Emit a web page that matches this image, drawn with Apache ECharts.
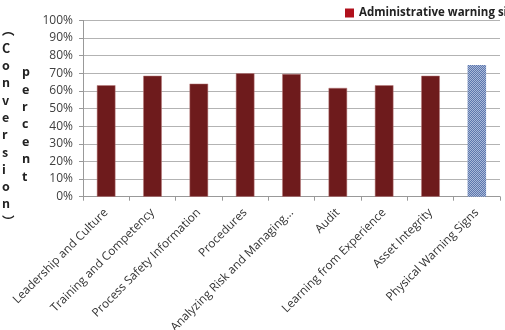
<!DOCTYPE html>
<html><head><meta charset="utf-8">
<script src="https://cdn.jsdelivr.net/npm/echarts@6/dist/echarts.min.js"></script>
<style>html,body{margin:0;padding:0;background:#fff}#c{width:505px;height:330px}</style>
</head><body><div id="c"></div>
<script>
const categories = ['Leadership and Culture','Training and Competency','Process Safety Information','Procedures','Analyzing Risk and Managing...','Audit','Learning from Experience','Asset Integrity','Physical Warning Signs'];
const values = [0.632, 0.686, 0.641, 0.700, 0.696, 0.617, 0.632, 0.686, 0.747];
const legendName = 'Administrative warning signs';
const yTitle1 = ['︵','C','o','n','v','e','r','s','i','o','n','︶'];
const yTitle2 = ['p','e','r','c','e','n','t'];

const pc = document.createElement('canvas');
pc.width = 2; pc.height = 2;
const g = pc.getContext('2d');
g.fillStyle = '#5d77ad'; g.fillRect(0,0,2,2);
g.fillStyle = '#a9b9d9'; g.fillRect(0,0,1,1); g.fillRect(1,1,1,1);

const chart = echarts.init(document.getElementById('c'));
const data = values.map((v,i)=> i===values.length-1 ? {value:v, itemStyle:{color:{image:pc, repeat:'repeat'}, borderWidth:0}} : v);
chart.setOption({
  animation:false,
  textStyle:{fontFamily:'Open Sans'},
  legend:{data:[{name:legendName, icon:'rect', itemStyle:{color:'#b0101c', borderWidth:0}}], left:340, top:2, itemWidth:9, itemHeight:9, itemGap:7,
    textStyle:{fontSize:11.5, fontWeight:'bold', color:'#222', fontFamily:'Open Sans'}},
  grid:{left:83, right:5, top:20.4, bottom:133.3, containLabel:false, outerBoundsMode:'none'},
  xAxis:{type:'category', data:categories,
    axisLine:{lineStyle:{color:'#999'}}, axisTick:{show:true, length:4, lineStyle:{color:'#999'}},
    axisLabel:{rotate:45, interval:0, fontSize:11.8, color:'#333', margin:14}},
  yAxis:{type:'value', min:0, max:1, interval:0.1,
    axisLine:{show:true, lineStyle:{color:'#999'}}, axisTick:{show:true, length:4, lineStyle:{color:'#999'}},
    splitLine:{lineStyle:{color:'#b3b3b3'}},
    axisLabel:{formatter:v=>Math.round(v*100)+'%', fontSize:12, color:'#404040', margin:10}},
  graphic:[
    {type:'text', left:2, top:22, style:{text:yTitle1.join('\n'), fontSize:12.5, fontWeight:'bold', lineHeight:17.3, fill:'#222', align:'center', fontFamily:'Noto Sans CJK SC'}},
    {type:'text', left:22, top:64, style:{text:yTitle2.join('\n'), fontSize:12.5, fontWeight:'bold', lineHeight:17.4, fill:'#222', align:'center', fontFamily:'Open Sans'}}
  ],
  series:[{name:legendName, type:'bar', data:data, barWidth:'40%', itemStyle:{color:'#6e1b1c', borderColor:'#b87a7a', borderWidth:0.5}}]
});
</script></body></html>
